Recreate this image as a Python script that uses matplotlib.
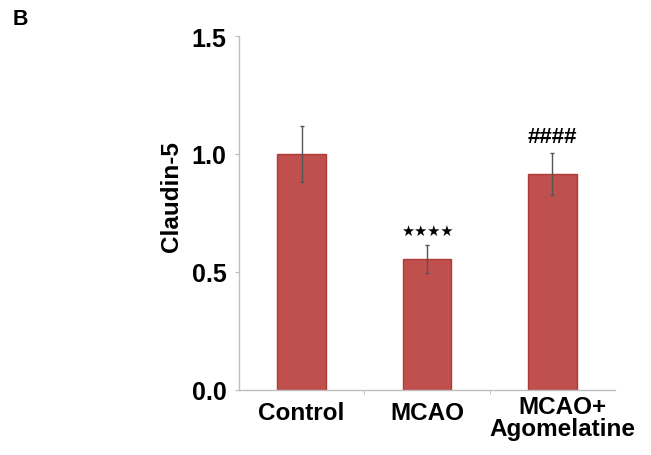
import matplotlib.pyplot as plt
import matplotlib.transforms as mtransforms
import numpy as np

groups = ['Control', 'MCAO', 'MCAO+\nAgomelatine']
claudin5 = [1.0, 0.555, 0.915]
sem = [0.12, 0.06, 0.09]
marks = ['', '★★★★', '####']

plt.rcParams['font.family'] = ['Liberation Sans', 'DejaVu Sans']

fig = plt.figure(figsize=(6.51, 4.56), dpi=100)
ax = fig.add_axes([239 / 651, 1 - 391 / 456, 376 / 651, 354 / 456])

x = np.arange(len(groups))
ax.bar(x, claudin5, width=0.39, color='#C0504D', edgecolor='#B03A37', linewidth=1.0, zorder=2)
ax.errorbar(x, claudin5, yerr=sem, fmt='none', ecolor='#555555', elinewidth=1.0,
            capsize=1.5, capthick=1.0, zorder=3)

for xi, v, e, m in zip(x, claudin5, sem, marks):
    if m.startswith('★'):
        ax.text(xi, v + e + 0.04, m, ha='center', va='baseline', fontsize=10.5,
                family='DejaVu Sans')
    elif m:
        ax.text(xi, v + e + 0.045, m, ha='center', va='baseline', fontsize=16,
                fontweight='bold')

ax.set_xlim(-0.5, 2.5)
ax.set_ylim(0, 1.5)
ax.set_yticks([0, 0.5, 1.0, 1.5])
ax.set_yticklabels(['0.0', '0.5', '1.0', '1.5'], fontsize=18, fontweight='bold')
ax.set_xticks(x)
ax.set_xticklabels(groups, fontsize=17.5, fontweight='bold', linespacing=0.92)
ax.set_xticks([0.5, 1.5], minor=True)
ax.tick_params(axis='x', which='major', length=0, pad=8)
ax.tick_params(axis='x', which='minor', length=3, color='#BBBBBB')
ax.tick_params(axis='y', length=3, color='#BBBBBB', pad=6)

# the two-line label sits a bit higher and to the right in the original
lbl = ax.get_xticklabels()[2]
lbl.set_transform(lbl.get_transform() +
                  mtransforms.ScaledTranslation(10 / 100, 6 / 100, fig.dpi_scale_trans))

for s in ['top', 'right']:
    ax.spines[s].set_visible(False)
for s in ['left', 'bottom']:
    ax.spines[s].set_color('#BFBFBF')
    ax.spines[s].set_linewidth(1.0)

ax.set_ylabel('Claudin-5', fontsize=17.5, fontweight='bold')
ax.yaxis.set_label_coords(-0.148, 0.548)
fig.text(13 / 651, 1 - 19.5 / 456, 'B', fontsize=15.5, fontweight='bold', ha='left', va='center')

fig.savefig('out.png', dpi=100)
